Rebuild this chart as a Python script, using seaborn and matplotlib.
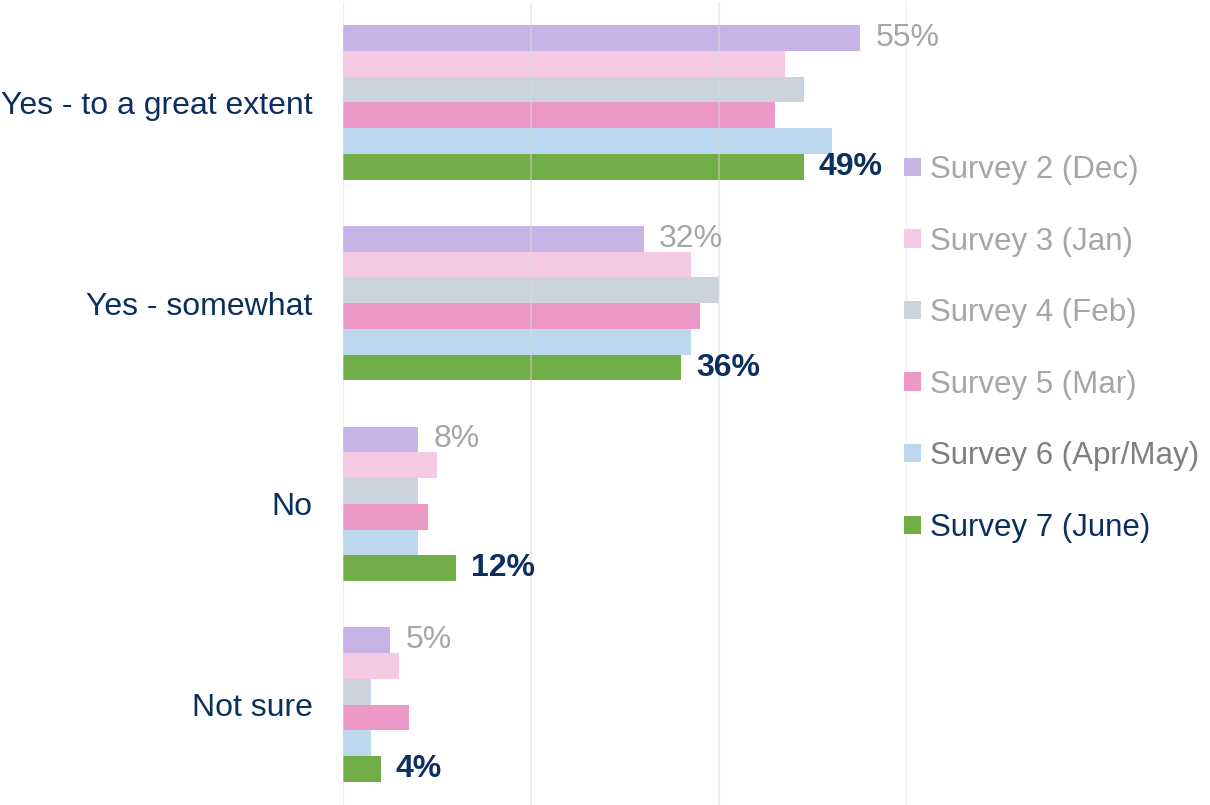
import matplotlib
matplotlib.use("Agg")
import matplotlib.pyplot as plt
import pandas as pd
import seaborn as sns

categories = ["Yes - to a great extent", "Yes - somewhat", "No", "Not sure"]
surveys = ["Survey 2 (Dec)", "Survey 3 (Jan)", "Survey 4 (Feb)",
           "Survey 5 (Mar)", "Survey 6 (Apr/May)", "Survey 7 (June)"]
survey2 = [55, 32, 8, 5]
survey3 = [47, 37, 10, 6]
survey4 = [49, 40, 8, 3]
survey5 = [46, 38, 9, 7]
survey6 = [52, 37, 8, 3]
survey7 = [49, 36, 12, 4]

colors = ["#c7b3e6", "#f5c9e3", "#cbd3df", "#ec98c7", "#bdd7ee", "#70ad47"]
legend_colors = ["#a6a6a6", "#a6a6a6", "#a6a6a6", "#a6a6a6", "#7f7f7f", "#0b2f5e"]
navy = "#0b2f5e"

series = [survey2, survey3, survey4, survey5, survey6, survey7]
rows = []
for name, vals in zip(surveys, series):
    for cat, v in zip(categories, vals):
        rows.append({"category": cat, "survey": name, "value": v})
df = pd.DataFrame(rows)

sns.set_style("white")
plt.rcParams["font.family"] = ["Liberation Sans", "DejaVu Sans"]

fig = plt.figure(figsize=(12.1, 8.05), dpi=100)
ax = fig.add_axes([343 / 1210, 0.0, (907 - 343) / 1210, 803 / 805])

sns.barplot(data=df, y="category", x="value", hue="survey", order=categories,
            hue_order=surveys, palette=colors, orient="h", width=0.77,
            saturation=1, linewidth=0, ax=ax, legend=True)

ax.set_xlim(0, 60)
ax.set_xticks([0, 20, 40, 60])
ax.set_xticklabels([])
ax.grid(axis="x", color="#d9d9d9", linewidth=1.5, alpha=0.45)
ax.set_axisbelow(False)
for s in ax.spines.values():
    s.set_visible(False)
ax.set_xlabel("")
ax.set_ylabel("")
ax.tick_params(axis="y", length=0, pad=22, labelsize=23, labelcolor=navy)
ax.tick_params(axis="x", length=0)

ax.bar_label(ax.containers[0], fmt="{:.0f}%", padding=11, fontsize=23,
             color="#a6a6a6")
ax.bar_label(ax.containers[5], fmt="{:.0f}%", padding=11, fontsize=23,
             color=navy, fontweight="bold")

handles, labels = ax.get_legend_handles_labels()
ax.get_legend().remove()
leg = fig.legend(handles, labels, loc="upper left", frameon=False,
                 bbox_to_anchor=(904 / 1210, 1 - 155 / 805),
                 bbox_transform=fig.transFigure, fontsize=22.5,
                 handlelength=0.53, handleheight=0.53, handletextpad=0.3,
                 labelspacing=1.33, borderpad=0, borderaxespad=0)
for t, c in zip(leg.get_texts(), legend_colors):
    t.set_color(c)

fig.savefig("out.png", dpi=100)
